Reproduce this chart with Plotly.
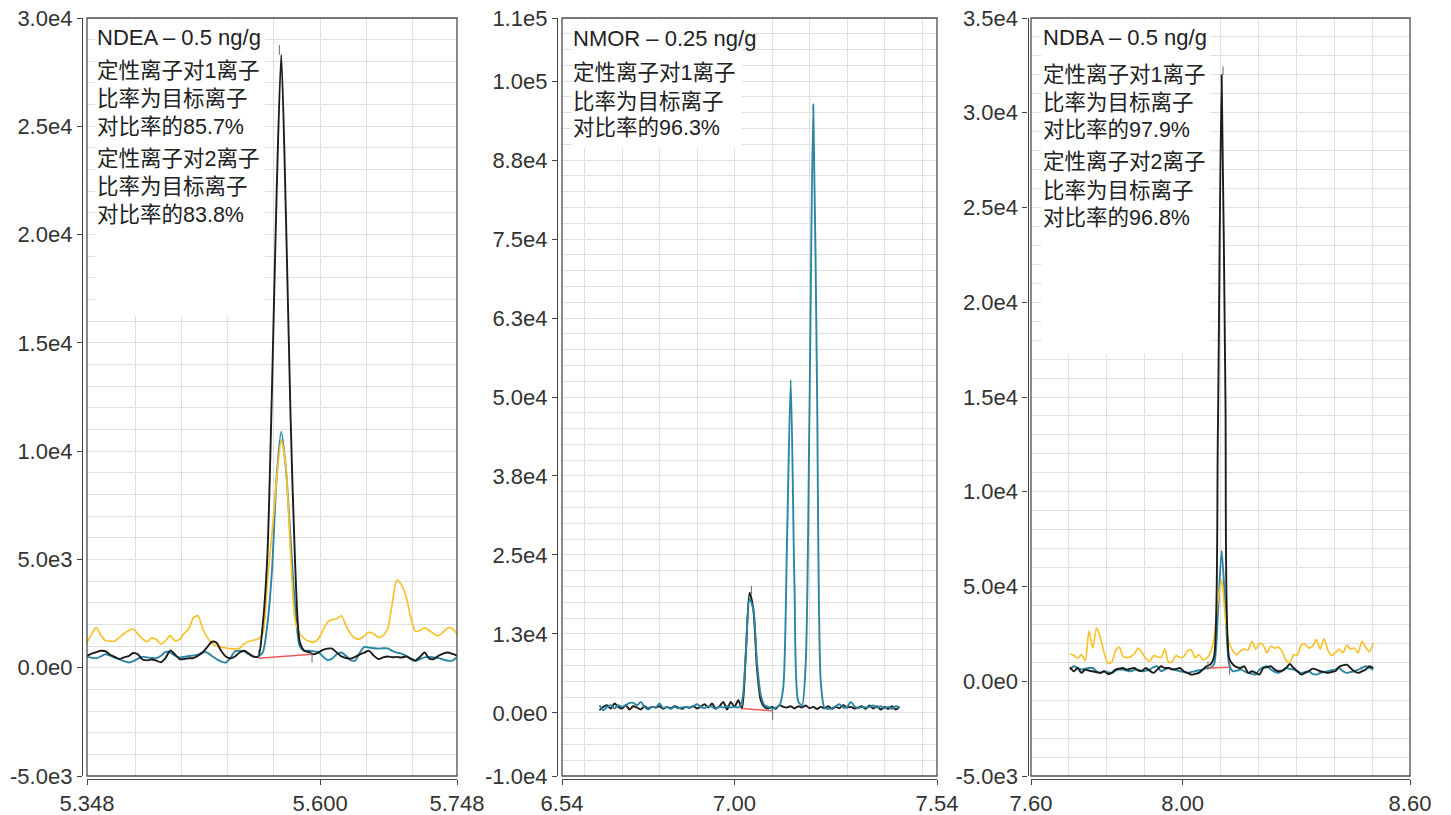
import plotly.graph_objects as go

W, H = 1451, 815

# ---------------- Panel 1: NDEA ----------------
p1_t0, p1_dt = 5.348, 0.005
p1_black = [550, 650, 720, 780, 760, 600, 500, 400, 480, 530,
            680, 620, 380, 340, 380, 330, 250, 450, 800, 620,
            400, 400, 440, 440, 550, 700, 950, 1200, 1150, 780,
            520, 430, 520, 700, 780, 650, 520, 500, 2000, 5200,
            12900, 21900, 28300, 21000, 11700, 4800, 1200, 780, 720, 620,
            700, 820, 880, 880, 700, 520, 450, 420, 500, 620,
            700, 780, 560, 400, 480, 520, 480, 500, 470, 520,
            420, 330, 500, 700, 420, 400, 550, 650, 700, 640, 560]
p1_teal = [500, 460, 440, 520, 620, 560, 460, 400, 300, 240,
           300, 420, 500, 480, 450, 440, 550, 730, 700, 560,
           480, 500, 540, 560, 600, 720, 700, 540, 400, 280,
           240, 450, 760, 780, 750, 620, 500, 520, 700, 2000,
           4500, 8800, 10900, 9200, 6000, 2800, 1000, 780, 790, 760,
           720, 520, 350, 420, 620, 700, 550, 350, 330, 700,
           960, 930, 900, 880, 900, 890, 780, 700, 650, 550,
           400, 320, 400, 480, 500, 480, 440, 380, 320, 330, 480]
p1_yellow = [1170, 1550, 1850, 1500, 1250, 1230, 1230, 1400, 1580, 1720,
             1790, 1550, 1330, 1200, 1380, 1300, 1090, 1250, 1480, 1250,
             1300, 1580, 1800, 2300, 2400, 1800, 1400, 1120, 1000, 950,
             910, 880, 870, 900, 1100, 1210, 1270, 1330, 1560, 4000,
             6200, 8700, 10500, 9300, 5300, 2200, 1560, 1330, 1220, 1170,
             1330, 1720, 2100, 2220, 2260, 2390, 1950, 1560, 1360, 1330,
             1480, 1640, 1560, 1400, 1480, 1800, 2960, 4050, 3820, 3280,
             2340, 1680, 1720, 1840, 1720, 1560, 1480, 1640, 1840, 1800, 1560]
p1_base_t, p1_base_y = [5.5336, 5.5913], [440, 620]
p1_marks = [([5.5336, 5.5336], [437, 811]), ([5.5913, 5.5913], [234, 624]),
            ([5.556, 5.556], [28300, 28750])]
p1_xticks = [5.348, 5.600, 5.748]
p1_xticktext = ["5.348", "5.600", "5.748"]
p1_xgrid = [5.40, 5.45, 5.50, 5.55, 5.60, 5.65, 5.70]
p1_yticks = [-5000, 0, 5000, 10000, 15000, 20000, 25000, 30000]
p1_yticktext = ["-5.0e3", "0.0e0", "5.0e3", "1.0e4", "1.5e4", "2.0e4", "2.5e4", "3.0e4"]
p1_text = ["NDEA – 0.5 ng/g", "定性离子对1离子", "比率为目标离子", "对比率的85.7%",
           "定性离子对2离子", "比率为目标离子", "对比率的83.8%"]

# ---------------- Panel 2: NMOR ----------------
p2_t0, p2_dt = 6.64, 0.01
p2_black = [420, 945, 1210, 680, 1470, 945, 680, 1210, 525, 1050,
            840, 525, 1050, 680, 945, 840, 1050, 630, 945, 735,
            1050, 840, 630, 945, 790, 1050, 680, 945, 1365, 840,
            1470, 680, 1050, 1730, 525, 1730, 945, 2000, 680, 9000,
            19000, 16500, 7000, 2000, 900, 680, 945, 630, 1210, 945,
            840, 1050, 680, 1050, 840, 1150, 735, 945, 630, 945,
            735, 1050, 630, 945, 735, 1210, 840, 945, 680, 840,
            1050, 630, 1150, 680, 1050, 525, 945, 630, 1050, 525, 945]
p2_teal = [1210, 420, 945, 1210, 680, 1210, 945, 1210, 1575, 1575,
           1210, 1730, 945, 525, 945, 840, 1470, 735, 945, 630,
           945, 735, 840, 945, 840, 1050, 1365, 945, 735, 1050,
           945, 630, 945, 840, 1050, 840, 945, 840, 1800, 9500,
           18000, 16500, 8000, 2800, 1200, 945, 680, 840, 1210, 4000,
           27000, 52700, 20000, 1800, 1200, 8000, 48000, 96300, 52000, 5000,
           800, 630, 735, 1050, 1365, 840, 945, 1730, 1050, 735,
           945, 840, 945, 1150, 840, 1050, 735, 945, 630, 1050, 840]
p2_base_t, p2_base_y = [7.019, 7.1017], [680, 315]
p2_marks = [([7.1017, 7.1017], [-1150, 680]), ([7.045, 7.045], [18800, 20100])]
p2_xticks = [6.54, 7.00, 7.54]
p2_xticktext = ["6.54", "7.00", "7.54"]
p2_xgrid = [6.6, 6.7, 6.8, 6.9, 7.0, 7.1, 7.2, 7.3, 7.4, 7.5]
p2_yticks = [-10000, 0, 12500, 25000, 37500, 50000, 62500, 75000, 87500, 100000, 110000]
p2_yticktext = ["-1.0e4", "0.0e0", "1.3e4", "2.5e4", "3.8e4", "5.0e4", "6.3e4",
                "7.5e4", "8.8e4", "1.0e5", "1.1e5"]
p2_text = ["NMOR – 0.25 ng/g", "定性离子对1离子", "比率为目标离子", "对比率的96.3%"]

# ---------------- Panel 3: NDBA ----------------
p3_t0, p3_dt = 7.703, 0.01
p3_black = [740, 525, 700, 440, 614, 560, 526, 475, 440, 526,
            385, 440, 614, 665, 700, 614, 665, 700, 560, 560,
            700, 560, 440, 614, 790, 700, 700, 614, 650, 700,
            526, 440, 350, 385, 440, 614, 790, 877, 1300, 13000,
            32000, 15000, 1200, 877, 740, 700, 790, 440, 526, 440,
            350, 700, 740, 790, 614, 526, 560, 700, 910, 700,
            526, 350, 440, 526, 665, 614, 526, 490, 440, 490,
            526, 770, 840, 877, 700, 526, 440, 526, 614, 790, 700]
p3_teal = [614, 790, 700, 614, 665, 700, 700, 526, 440, 526,
           475, 440, 560, 614, 614, 560, 526, 600, 614, 526,
           560, 614, 740, 790, 526, 614, 700, 650, 580, 526,
           490, 440, 490, 526, 580, 614, 700, 700, 900, 3500,
           6900, 3800, 900, 526, 560, 614, 526, 440, 385, 350,
           614, 740, 790, 614, 490, 440, 560, 700, 650, 614,
           526, 440, 490, 526, 385, 350, 440, 490, 526, 580,
           614, 700, 526, 440, 490, 526, 614, 700, 790, 700, 614]
p3_yellow = [1440, 1370, 1200, 1400, 1100, 2650, 1750, 2800, 2300, 1500,
             950, 1000, 1600, 1800, 1300, 1250, 1300, 1450, 1750, 1500,
             1200, 1050, 1350, 1300, 1250, 1700, 1000, 1050, 1350, 1250,
             1300, 1600, 1650, 1250, 1400, 1150, 1200, 1500, 2280, 4200,
             5350, 3330, 2000, 1600, 1400, 1600, 1700, 1650, 2100, 1700,
             2000, 1900, 1500, 1850, 1750, 1800, 1550, 1100, 1000, 1400,
             1400, 1900, 1950, 1750, 1850, 2200, 1700, 2250, 1650, 1350,
             1500, 1700, 1500, 1900, 1700, 1750, 1500, 2100, 1800, 1550, 2000]
p3_base_t, p3_base_y = [8.067, 8.124], [700, 740]
p3_marks = [([8.067, 8.067], [600, 1050]), ([8.124, 8.124], [350, 1070]),
            ([8.1067, 8.1067], [32000, 32450])]
p3_xticks = [7.60, 8.00, 8.60]
p3_xticktext = ["7.60", "8.00", "8.60"]
p3_xgrid = [7.7, 7.8, 7.9, 8.0, 8.1, 8.2, 8.3, 8.4, 8.5]
p3_yticks = [-5000, 0, 5000, 10000, 15000, 20000, 25000, 30000, 35000]
p3_yticktext = ["-5.0e3", "0.0e0", "5.0e4", "1.0e4", "1.5e4", "2.0e4", "2.5e4", "3.0e4", "3.5e4"]
p3_text = ["NDBA – 0.5 ng/g", "定性离子对1离子", "比率为目标离子", "对比率的97.9%",
           "定性离子对2离子", "比率为目标离子", "对比率的96.8%"]

# ---------------- styling ----------------
BLACK = "#1c1c1c"
TEAL = "#2a86a2"
YELLOW = "#f8c22c"
RED = "#ef5a5a"
MARK = "#6a6a6a"
GRID = "#dfdfdf"
AXIS = "#454545"
FONT = "Liberation Sans, Arial, Noto Sans CJK SC, sans-serif"
WIDTHS = {BLACK: 1.9, TEAL: 1.9, YELLOW: 1.7}

panels = [
    dict(t0=p1_t0, dt=p1_dt, series=[(p1_teal, TEAL), (p1_yellow, YELLOW), (p1_black, BLACK)],
         base=(p1_base_t, p1_base_y), marks=p1_marks, xr=[5.348, 5.748], yr=[-5000, 30000],
         xt=(p1_xticks, p1_xticktext), xg=p1_xgrid, yt=(p1_yticks, p1_yticktext), ydt=1000,
         px=(87, 457), yaxpos=82, text=p1_text, tx=95, ty=[38, 71, 99, 127, 159, 187, 215],
         box=(95, 265, 20, 316)),
    dict(t0=p2_t0, dt=p2_dt, series=[(p2_black, BLACK), (p2_teal, TEAL)],
         base=(p2_base_t, p2_base_y), marks=p2_marks, xr=[6.54, 7.54], yr=[-10000, 110000],
         xt=(p2_xticks, p2_xticktext), xg=p2_xgrid, yt=(p2_yticks, p2_yticktext), ydt=2500,
         px=(562, 937), yaxpos=557, text=p2_text, tx=571, ty=[39, 73, 102, 128],
         box=(572, 742, 20, 148)),
    dict(t0=p3_t0, dt=p3_dt, series=[(p3_teal, TEAL), (p3_yellow, YELLOW), (p3_black, BLACK)],
         base=(p3_base_t, p3_base_y), marks=p3_marks, xr=[7.60, 8.60], yr=[-5000, 35000],
         xt=(p3_xticks, p3_xticktext), xg=p3_xgrid, yt=(p3_yticks, p3_yticktext), ydt=1000,
         px=(1031, 1410), yaxpos=1027.5, text=p3_text, tx=1041, ty=[38, 75, 103, 130, 162, 191, 218],
         box=(1041, 1210, 20, 354)),
]

PLOT_TOP, PLOT_BOT = 18, 776
fig = go.Figure()
shapes, annotations = [], []

for n, p in enumerate(panels, start=1):
    xa = "x" if n == 1 else f"x{n}"
    ya = "y" if n == 1 else f"y{n}"
    for vals, col in p["series"]:
        times = [p["t0"] + p["dt"] * i for i in range(len(vals))]
        fig.add_trace(go.Scatter(x=times, y=vals, mode="lines", xaxis=xa, yaxis=ya,
                                 line=dict(color=col, width=WIDTHS[col], shape="spline",
                                           smoothing=0.7),
                                 showlegend=False, hoverinfo="skip"))
    bt, by = p["base"]
    fig.add_trace(go.Scatter(x=bt, y=by, mode="lines", xaxis=xa, yaxis=ya,
                             line=dict(color=RED, width=1.4), showlegend=False, hoverinfo="skip"))
    for mt, my in p["marks"]:
        fig.add_trace(go.Scatter(x=mt, y=my, mode="lines", xaxis=xa, yaxis=ya,
                                 line=dict(color=MARK, width=1), showlegend=False, hoverinfo="skip"))

    x0, x1 = p["px"]
    xdom = [x0 / W, x1 / W]
    ydom = [1 - PLOT_BOT / H, 1 - PLOT_TOP / H]
    xkey = "xaxis" if n == 1 else f"xaxis{n}"
    ykey = "yaxis" if n == 1 else f"yaxis{n}"
    fig.update_layout(**{
        xkey: dict(domain=xdom, range=p["xr"], anchor="free", position=1 - 778.5 / H,
                   automargin=False,
                   tickmode="array", tickvals=p["xt"][0], ticktext=p["xt"][1],
                   ticks="outside", ticklen=5, tickwidth=1.2, tickcolor=AXIS,
                   showline=True, linecolor=AXIS, linewidth=1.3, showgrid=False, zeroline=False,
                   tickfont=dict(family=FONT, size=22, color="#333333"),
                   minor=dict(tickmode="array", tickvals=p["xg"], showgrid=True,
                              gridcolor=GRID, gridwidth=1, ticks="")),
        ykey: dict(domain=ydom, range=p["yr"], anchor="free", position=p["yaxpos"] / W,
                   automargin=False,
                   tickmode="array", tickvals=p["yt"][0], ticktext=p["yt"][1],
                   ticks="outside", ticklen=5, tickwidth=1.2, tickcolor=AXIS,
                   showline=True, linecolor=AXIS, linewidth=1.3, showgrid=True,
                   gridcolor=GRID, gridwidth=1, zeroline=False,
                   tickfont=dict(family=FONT, size=22, color="#333333"),
                   minor=dict(tickmode="linear", tick0=0, dtick=p["ydt"], showgrid=True,
                              gridcolor=GRID, gridwidth=1, ticks="")),
    })
    # plot frame
    shapes.append(dict(type="rect", xref="paper", yref="paper",
                       x0=xdom[0], x1=xdom[1], y0=ydom[0], y1=ydom[1],
                       line=dict(color="#4d4d4d", width=1.3), layer="above"))
    # white legend box covering the grid
    bx0, bx1, by0, by1 = p["box"]
    annotations.append(dict(text=" ", xref="paper", yref="paper", x=bx0 / W, y=1 - by0 / H,
                            xanchor="left", yanchor="top", showarrow=False,
                            width=bx1 - bx0, height=by1 - by0, bgcolor="white",
                            borderpad=0, borderwidth=0, font=dict(size=4)))
    for j, (txt, yy) in enumerate(zip(p["text"], p["ty"])):
        annotations.append(dict(text=txt, xref="paper", yref="paper", x=p["tx"] / W,
                                y=1 - yy / H, xanchor="left", yanchor="middle", showarrow=False,
                                font=dict(family=FONT, size=22 if j == 0 else 21.5,
                                          color="#222222")))

fig.update_layout(width=W, height=H, margin=dict(l=0, r=0, t=0, b=0, autoexpand=False),
                  paper_bgcolor="white", plot_bgcolor="white",
                  shapes=shapes, annotations=annotations, showlegend=False)

fig.write_html("out.html")
